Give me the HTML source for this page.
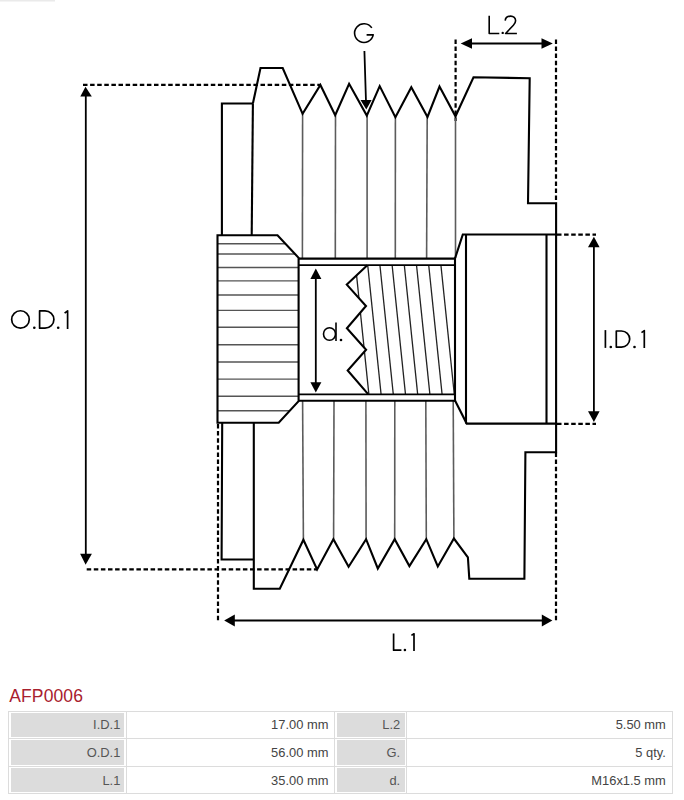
<!DOCTYPE html>
<html><head><meta charset="utf-8"><style>
html,body{margin:0;padding:0;background:#fff;width:684px;height:800px;overflow:hidden;position:relative;font-family:"Liberation Sans",sans-serif;}
.title{position:absolute;left:9.3px;top:685.6px;font-size:17.5px;color:#a8202e;line-height:20px;letter-spacing:0.1px}
.b{position:absolute;background:#dcdcdc}
.g{position:absolute;background:#dcdcdc}
.t{position:absolute;font-size:12.9px;line-height:14px;color:#444;text-align:right;white-space:nowrap}
.lab{color:#555}
</style></head><body>
<svg width="684" height="680" viewBox="0 0 684 680" style="position:absolute;left:0;top:0"><line x1="0" y1="0.7" x2="55" y2="0.7" stroke="#eaeaea" stroke-width="1.4"/>
<line x1="83" y1="84.9" x2="321" y2="84.9" stroke="#000" stroke-width="2.2" stroke-dasharray="4.5 2.6" stroke-dashoffset="0"/>
<line x1="86.7" y1="569.4" x2="317" y2="569.4" stroke="#000" stroke-width="2.2" stroke-dasharray="4.5 2.6" stroke-dashoffset="0"/>
<line x1="85.8" y1="95" x2="85.8" y2="555" stroke="#000" stroke-width="1.8"/>
<polygon points="85.5,86.8 80.3,96.5 91.8,96.5" fill="#000"/>
<polygon points="85.6,564.8 80.1,553.8 91.9,553.8" fill="#000"/>
<line x1="455.6" y1="39.4" x2="455.6" y2="121" stroke="#000" stroke-width="2.2" stroke-dasharray="4.5 2.6" stroke-dashoffset="0"/>
<line x1="556" y1="39.4" x2="556" y2="203" stroke="#000" stroke-width="2.2" stroke-dasharray="4.5 2.6" stroke-dashoffset="0"/>
<line x1="470" y1="43.5" x2="543" y2="43.5" stroke="#000" stroke-width="1.8"/>
<polygon points="460.7,43.5 472,38.3 472,48.7" fill="#000"/>
<polygon points="552.8,43.5 541.5,38.3 541.5,48.7" fill="#000"/>
<line x1="218" y1="424" x2="218" y2="622.6" stroke="#000" stroke-width="2.2" stroke-dasharray="4.5 2.6" stroke-dashoffset="0"/>
<line x1="556" y1="452.5" x2="556" y2="621" stroke="#000" stroke-width="2.2" stroke-dasharray="4.5 2.6" stroke-dashoffset="0"/>
<line x1="232" y1="620.5" x2="544" y2="620.5" stroke="#000" stroke-width="1.8"/>
<polygon points="224.2,620.5 234.8,614.6 234.8,626.4" fill="#000"/>
<polygon points="552.4,620.5 541.8,614.6 541.8,626.4" fill="#000"/>
<line x1="557" y1="234.7" x2="596" y2="234.7" stroke="#000" stroke-width="2.2" stroke-dasharray="4.5 2.6" stroke-dashoffset="0"/>
<line x1="557" y1="423.9" x2="596" y2="423.9" stroke="#000" stroke-width="2.2" stroke-dasharray="4.5 2.6" stroke-dashoffset="0"/>
<line x1="593.9" y1="245" x2="593.9" y2="413" stroke="#000" stroke-width="1.8"/>
<polygon points="593.9,236.8 588,247.2 599.6,247.2" fill="#000"/>
<polygon points="593.9,422 588,411.2 599.6,411.2" fill="#000"/>
<line x1="315.8" y1="276" x2="315.8" y2="385" stroke="#000" stroke-width="1.8"/>
<polygon points="315.8,268.4 310.4,278.9 321.4,278.9" fill="#000"/>
<polygon points="315.8,392.6 310.4,382.3 321.4,382.3" fill="#000"/>
<line x1="364.4" y1="51" x2="366" y2="102" stroke="#000" stroke-width="1.8"/>
<polygon points="366.3,109.4 360.5,100 371.6,100" fill="#000"/>
<line x1="302.6" y1="113.8" x2="302.4" y2="258" stroke="#5c5c5c" stroke-width="1.6"/>
<line x1="335.5" y1="115.4" x2="335.3" y2="258" stroke="#5c5c5c" stroke-width="1.6"/>
<line x1="367.1" y1="115.6" x2="367.1" y2="258" stroke="#5c5c5c" stroke-width="1.6"/>
<line x1="395.4" y1="117" x2="395.3" y2="258" stroke="#5c5c5c" stroke-width="1.6"/>
<line x1="427.2" y1="117" x2="426.6" y2="258" stroke="#5c5c5c" stroke-width="1.6"/>
<line x1="455.5" y1="116.3" x2="455.5" y2="258" stroke="#5c5c5c" stroke-width="1.6"/>
<line x1="302.6" y1="401" x2="303.4" y2="539.7" stroke="#5c5c5c" stroke-width="1.6"/>
<line x1="334" y1="401" x2="333.6" y2="539.2" stroke="#5c5c5c" stroke-width="1.6"/>
<line x1="365.9" y1="401" x2="366.1" y2="539.2" stroke="#5c5c5c" stroke-width="1.6"/>
<line x1="394.8" y1="401" x2="394.7" y2="539.2" stroke="#5c5c5c" stroke-width="1.6"/>
<line x1="425.8" y1="401" x2="426.3" y2="539.2" stroke="#5c5c5c" stroke-width="1.6"/>
<line x1="453.2" y1="401" x2="453.9" y2="538.5" stroke="#5c5c5c" stroke-width="1.6"/>
<clipPath id="hubc"><polygon points="217.5,235.2 277.5,235.2 298.6,257.8 298.6,401.2 278.7,422.8 217.5,422.8"/></clipPath>
<g clip-path="url(#hubc)">
<line x1="217" y1="243.75" x2="300" y2="243.75" stroke="#555" stroke-width="1.4"/>
<line x1="217" y1="254" x2="300" y2="254" stroke="#555" stroke-width="1.4"/>
<line x1="217" y1="267.5" x2="300" y2="267.5" stroke="#555" stroke-width="1.4"/>
<line x1="217" y1="280.9" x2="300" y2="280.9" stroke="#555" stroke-width="1.4"/>
<line x1="217" y1="295" x2="300" y2="295" stroke="#555" stroke-width="1.4"/>
<line x1="217" y1="310.4" x2="300" y2="310.4" stroke="#555" stroke-width="1.4"/>
<line x1="217" y1="327.25" x2="300" y2="327.25" stroke="#555" stroke-width="1.4"/>
<line x1="217" y1="344.75" x2="300" y2="344.75" stroke="#555" stroke-width="1.4"/>
<line x1="217" y1="362" x2="300" y2="362" stroke="#555" stroke-width="1.4"/>
<line x1="217" y1="379.1" x2="300" y2="379.1" stroke="#555" stroke-width="1.4"/>
<line x1="217" y1="396.25" x2="300" y2="396.25" stroke="#555" stroke-width="1.4"/>
<line x1="217" y1="410.75" x2="300" y2="410.75" stroke="#555" stroke-width="1.4"/>
</g>
<clipPath id="thrc"><polygon points="367.3,265.3 455,265.3 455,394 367.9,394 347.7,370.5 366.1,349.8 346.9,328.3 366,306 346.8,284.6"/></clipPath>
<g clip-path="url(#thrc)">
<line x1="355.5" y1="265" x2="368.9" y2="394.5" stroke="#222" stroke-width="1.3"/>
<line x1="367.7" y1="265" x2="381.09999999999997" y2="394.5" stroke="#222" stroke-width="1.3"/>
<line x1="379.9" y1="265" x2="393.29999999999995" y2="394.5" stroke="#222" stroke-width="1.3"/>
<line x1="392.1" y1="265" x2="405.5" y2="394.5" stroke="#222" stroke-width="1.3"/>
<line x1="404.3" y1="265" x2="417.7" y2="394.5" stroke="#222" stroke-width="1.3"/>
<line x1="416.5" y1="265" x2="429.9" y2="394.5" stroke="#222" stroke-width="1.3"/>
<line x1="428.7" y1="265" x2="442.09999999999997" y2="394.5" stroke="#222" stroke-width="1.3"/>
<line x1="440.9" y1="265" x2="454.29999999999995" y2="394.5" stroke="#222" stroke-width="1.3"/>
</g>
<polyline points="221.9,235.3 221.9,103.5 252.9,103.5" fill="none" stroke="#000" stroke-width="2.1" stroke-linejoin="miter" stroke-miterlimit="10"/>
<line x1="252.9" y1="103.5" x2="251.7" y2="235.3" stroke="#000" stroke-width="2.1"/>
<polyline points="252.9,103.5 260.5,68 282.7,68 302.6,113.8 320.4,85 335.2,115.2 349.1,83.8 366.8,115.6 379.7,86.1 395.4,117.2 411.3,87.2 427.5,117 439.5,86.6 455.5,116.3 473.5,77.2 529.7,78.3 528,203.3 556.1,203.3 556.1,452.3 525.4,452.3 524.4,578.8 469.3,578.8 467.9,557.3 453.9,538.5 437.8,566.5 426.3,539.2 409.4,566.1 394.7,539.2 377.8,568.5 366.1,539.2 348.6,566.8 333.4,539.2 317.1,569.4 303.4,539.7 279.8,588.8 253.8,588.8 253.8,422.8" fill="none" stroke="#000" stroke-width="2.1" stroke-linejoin="miter" stroke-miterlimit="10"/>
<polyline points="222.2,422.8 221.6,559.5 253.8,559.5" fill="none" stroke="#000" stroke-width="2.1" stroke-linejoin="miter" stroke-miterlimit="10"/>
<polyline points="298.6,258.5 298.6,257.8 277.5,235.2 217.5,235.2 217.5,422.8 278.7,422.8 298.6,401.2 298.6,257.8" fill="none" stroke="#000" stroke-width="2.1" stroke-linejoin="miter" stroke-miterlimit="10"/>
<line x1="298" y1="258.6" x2="455.5" y2="258.6" stroke="#000" stroke-width="2.1"/>
<line x1="298" y1="265.2" x2="455.5" y2="265.2" stroke="#000" stroke-width="1.8"/>
<line x1="298" y1="394.4" x2="455.5" y2="394.4" stroke="#000" stroke-width="1.8"/>
<line x1="298" y1="400.8" x2="455.5" y2="400.8" stroke="#000" stroke-width="2.1"/>
<line x1="455" y1="257.6" x2="455" y2="401.5" stroke="#000" stroke-width="2.1"/>
<polyline points="367.3,265.3 346.8,284.6 366,306 346.9,328.3 366.1,349.8 347.7,370.5 367.9,393.9" fill="none" stroke="#000" stroke-width="2.1" stroke-linejoin="miter" stroke-miterlimit="10"/>
<polyline points="455,258.5 462.8,234.5 556.1,234.5" fill="none" stroke="#000" stroke-width="2.1" stroke-linejoin="miter" stroke-miterlimit="10"/>
<polyline points="455,400.6 466.7,423.6 556.1,423.6" fill="none" stroke="#000" stroke-width="2.1" stroke-linejoin="miter" stroke-miterlimit="10"/>
<line x1="466" y1="234.5" x2="466" y2="423.6" stroke="#000" stroke-width="2.1"/>
<line x1="546.5" y1="234.5" x2="546.5" y2="423.6" stroke="#000" stroke-width="2.1"/>
<path d="M371.8,27.9 A9.4,9.35 0 1 0 373.2,34.9 L366.6,34.9" fill="none" stroke="#000" stroke-width="1.6" stroke-linejoin="round"/>
<path d="M489.2,15.8 V33.5 H499.3" fill="none" stroke="#000" stroke-width="1.6" stroke-linejoin="round"/>
<circle cx="502.7" cy="32.9" r="1.2" fill="#000"/>
<path d="M505.2,20.6 C505.4,17.4 507.8,16.1 510.6,16.1 C513.5,16.1 515.6,18.1 515.6,20.8 C515.6,22.6 514.7,23.8 513.4,25.2 L505.6,33.5 H516.9" fill="none" stroke="#000" stroke-width="1.6" stroke-linejoin="round"/>
<ellipse cx="20.45" cy="319.45" rx="8.8" ry="8.7" fill="none" stroke="#000" stroke-width="1.7" stroke-linejoin="round"/>
<circle cx="34.3" cy="327.8" r="1.3" fill="#000"/>
<path d="M39.6,310.8 V328.2 H45 A8.9,8.7 0 0 0 45,310.8 Z" fill="none" stroke="#000" stroke-width="1.7" stroke-linejoin="round"/>
<circle cx="58.2" cy="327.8" r="1.3" fill="#000"/>
<path d="M64.6,313.2 L67.6,310.8 V329" fill="none" stroke="#000" stroke-width="1.7" stroke-linejoin="round"/>
<path d="M605.4,330.1 V347.9" fill="none" stroke="#000" stroke-width="1.7" stroke-linejoin="round"/>
<circle cx="610.8" cy="347" r="1.3" fill="#000"/>
<path d="M616.3,331 V347.1 H621.5 A8.2,8.05 0 0 0 621.5,331 Z" fill="none" stroke="#000" stroke-width="1.7" stroke-linejoin="round"/>
<circle cx="634.5" cy="347" r="1.3" fill="#000"/>
<path d="M641.5,332.6 L644.3,330.6 V348" fill="none" stroke="#000" stroke-width="1.7" stroke-linejoin="round"/>
<path d="M393.6,633.4 V650.2 H401.4" fill="none" stroke="#000" stroke-width="1.7" stroke-linejoin="round"/>
<circle cx="404.9" cy="650" r="1.3" fill="#000"/>
<path d="M411.4,635.4 L414,633.8 V651" fill="none" stroke="#000" stroke-width="1.7" stroke-linejoin="round"/>
<ellipse cx="329.5" cy="334" rx="6.0" ry="6.3" fill="none" stroke="#000" stroke-width="1.6"/>
<path d="M336,322.6 V341" fill="none" stroke="#000" stroke-width="1.6"/>
<circle cx="341" cy="340" r="1.3" fill="#000"/></svg>
<div class="title">AFP0006</div>
<div class="b" style="left:8px;top:711px;width:665px;height:1px"></div>
<div class="b" style="left:8px;top:793px;width:665px;height:1px"></div>
<div class="b" style="left:8px;top:711px;width:1px;height:83px"></div>
<div class="b" style="left:672px;top:711px;width:1px;height:83px"></div>
<div class="b" style="left:8px;top:738px;width:665px;height:1px"></div>
<div class="b" style="left:8px;top:766px;width:665px;height:1px"></div>
<div class="b" style="left:126px;top:711px;width:1px;height:83px"></div>
<div class="b" style="left:334px;top:711px;width:1px;height:83px"></div>
<div class="b" style="left:406px;top:711px;width:1px;height:83px"></div>
<div class="g" style="left:11px;top:712.6px;width:113px;height:24.399999999999977px"></div>
<div class="g" style="left:337px;top:712.6px;width:68px;height:24.399999999999977px"></div>
<div class="g" style="left:11px;top:740.4px;width:113px;height:24.600000000000023px"></div>
<div class="g" style="left:337px;top:740.4px;width:68px;height:24.600000000000023px"></div>
<div class="g" style="left:11px;top:768.3px;width:113px;height:23.90000000000009px"></div>
<div class="g" style="left:337px;top:768.3px;width:68px;height:23.90000000000009px"></div>
<div class="t lab" style="right:563.7px;top:718px">I.D.1</div>
<div class="t" style="right:355.6px;top:718px">17.00 mm</div>
<div class="t lab" style="right:283.8px;top:718px">L.2</div>
<div class="t" style="right:18.200000000000045px;top:718px">5.50 mm</div>
<div class="t lab" style="right:563.7px;top:746px">O.D.1</div>
<div class="t" style="right:355.6px;top:746px">56.00 mm</div>
<div class="t lab" style="right:283.8px;top:746px">G.</div>
<div class="t" style="right:18.200000000000045px;top:746px">5 qty.</div>
<div class="t lab" style="right:563.7px;top:774px">L.1</div>
<div class="t" style="right:355.6px;top:774px">35.00 mm</div>
<div class="t lab" style="right:283.8px;top:774px">d.</div>
<div class="t" style="right:18.200000000000045px;top:774px">M16x1.5 mm</div>
</body></html>
